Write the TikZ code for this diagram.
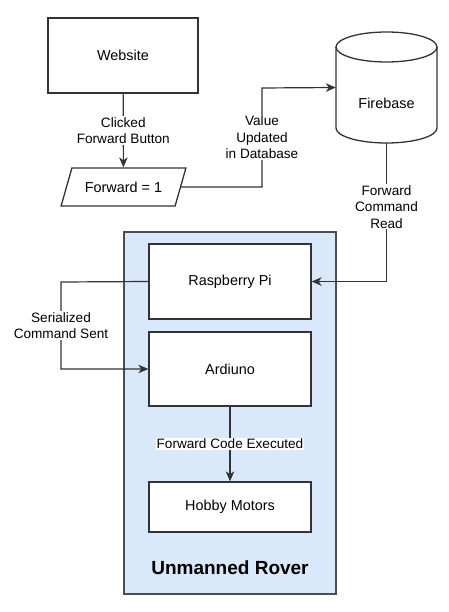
\documentclass[tikz,border=0pt]{standalone}
\usepackage{fontspec}
\setmainfont{Liberation Sans}
\usepackage{xcolor}
\usetikzlibrary{arrows.meta,shapes.geometric}
\definecolor{roverblue}{HTML}{DAE8FC}
\definecolor{linegray}{HTML}{333333}
\definecolor{edgegray}{HTML}{4D4D4D}

\begin{document}
\begin{tikzpicture}[x=1pt, y=-1pt,
		box/.style={draw=linegray, line width=1.3pt, fill=white, minimum width=162pt, font=\fontsize{14.4}{17}\selectfont},
		lbl/.style={fill=white, inner sep=1pt, align=center, font=\fontsize{13.6}{16.5}\selectfont},
		link/.style={draw=linegray, line width=1.2pt, -{Stealth[length=10pt, width=8.5pt, inset=3pt]}}]
		\useasboundingbox (0,0) rectangle (448,612);
		\newcommand{\cx}{230}
		
		\draw[draw=edgegray, line width=1.6pt, fill=roverblue] (124,232) rectangle (336,594);
		\node[font=\bfseries\fontsize{19}{22}\selectfont] (rover) at (\cx,568) {Unmanned Rover};
		
		\node[box, minimum width=150pt, minimum height=75pt] (web) at (123,55.5) {Website};
		\node[draw=linegray, line width=1.3pt, fill=white, trapezium, trapezium stretches=true, trapezium left angle=63, trapezium right angle=117, minimum width=125pt, minimum height=38pt, font=\fontsize{14.4}{17}\selectfont] (fwd) at (123.5,187) {Forward = 1};
		
		% cylinder
		\draw[draw=linegray, line width=1.3pt, fill=white] (336,47) -- (336,128) arc[start angle=180, end angle=360, x radius=50.5pt, y radius=15pt] -- (437,47) arc[start angle=0, end angle=180, x radius=50.5pt, y radius=15pt] -- cycle;
		\draw[draw=linegray, line width=1.3pt] (336,47) arc[start angle=180, end angle=360, x radius=50.5pt, y radius=15pt];
		\node[minimum width=101pt, minimum height=111pt, inner sep=0pt] (fb) at (386.5,87.5) {};
		\node[font=\fontsize{14.4}{17}\selectfont] (fbtext) at (386.5,103) {Firebase};
		
		\node[box, minimum height=75pt] (rpi) at (\cx,281.5) {Raspberry Pi};
		\node[box, minimum height=74pt] (ard) at (\cx,369) {Ardiuno};
		\node[box, minimum height=50pt] (hob) at (\cx,507) {Hobby Motors};
		
		\coordinate (vbend) at (262,88);
		\coordinate (sbend) at (61,282);
		
		\draw[link] (web) -- node[lbl]{Clicked\\Forward Button} (fwd);
		\draw[link] (fwd.east) -| node[lbl, pos=0.75]{Value\\Updated\\in Database} (vbend) -- (fb.west);
		\draw[link] (fb.south) |- node[lbl, pos=0.23]{Forward\\Command\\Read} (rpi.east);
		\draw[link] (rpi.west) -- (sbend) |- node[lbl, pos=0.25]{Serialized\\Command Sent} (ard.west);
		\draw[link] (ard) -- node[lbl]{Forward Code Executed} (hob);
	\end{tikzpicture}
\end{document}
